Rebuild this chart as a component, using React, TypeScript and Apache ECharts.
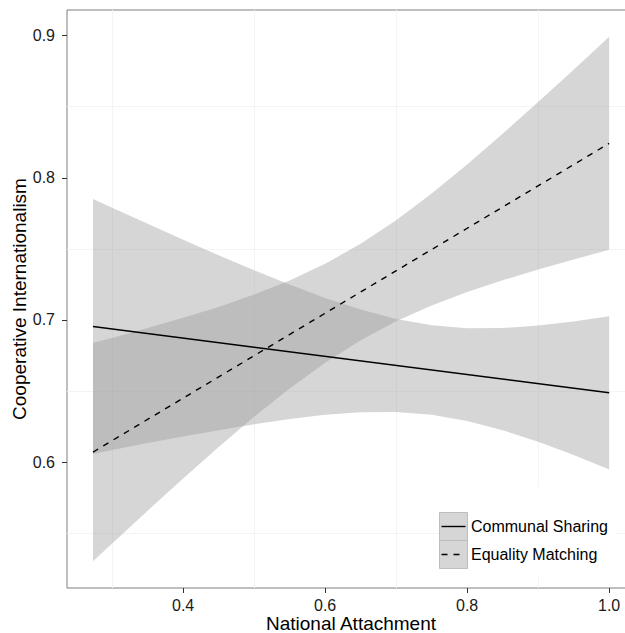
import React, { useEffect, useRef } from "react";
import * as echarts from "echarts";

// x positions at which the confidence bands were read
const bandX = [0.273, 0.3, 0.35, 0.4, 0.45, 0.5, 0.55, 0.6, 0.65, 0.7, 0.75, 0.8, 0.85, 0.9, 0.95, 1.0];
// Communal Sharing band
const csLower = [0.6057, 0.6085, 0.6134, 0.618, 0.6225, 0.6267, 0.6303, 0.6333, 0.6351, 0.6353, 0.6333, 0.629, 0.6225, 0.6143, 0.605, 0.5949];
const csUpper = [0.7851, 0.7789, 0.7676, 0.7564, 0.7455, 0.7349, 0.7249, 0.7155, 0.7073, 0.7007, 0.6963, 0.6942, 0.6943, 0.6961, 0.699, 0.7027];
// Equality Matching band
const emLower = [0.5303, 0.5428, 0.5659, 0.5885, 0.6106, 0.6319, 0.6518, 0.6699, 0.6858, 0.6991, 0.7102, 0.7196, 0.7279, 0.7355, 0.7426, 0.7493];
const emUpper = [0.6839, 0.6874, 0.6943, 0.7015, 0.7092, 0.7179, 0.7278, 0.7395, 0.7536, 0.7701, 0.789, 0.8094, 0.8309, 0.8533, 0.876, 0.8991];
// fitted lines
const fitX = [0.273, 1.0];
const csFit = [0.6954, 0.6488];
const emFit = [0.6071, 0.8242];

const seriesNames = ["Communal Sharing", "Equality Matching"];
const xTicks = [0.4, 0.6, 0.8, 1.0];
const yTicks = [0.6, 0.7, 0.8, 0.9];
const xGrid = [0.3, 0.5, 0.7, 0.9];
const yGrid = [0.55, 0.65, 0.75, 0.85];
const xTitle = "National Attachment";
const yTitle = "Cooperative Internationalism";

const FONT = '"Liberation Sans", Arial, Helvetica, sans-serif';
const RIBBON = "rgba(153,153,153,0.4)";

export default function App() {
  const ref = useRef<HTMLDivElement>(null);
  useEffect(() => {
    const chart = echarts.init(ref.current!, null, { renderer: "svg", width: 640, height: 633 });
    const pairs = (xs: number[], ys: number[]) => xs.map((x, i) => [x, ys[i]]);
    const ribbon = (name: string, lower: number[], upper: number[]) => ({
      type: "custom",
      name,
      silent: true,
      z: 2,
      data: [[bandX[0], lower[0]]],
      renderItem: (_params: any, api: any) => {
        const top = bandX.map((x, i) => api.coord([x, upper[i]]));
        const bottom = bandX.map((x, i) => api.coord([x, lower[i]])).reverse();
        return {
          type: "polygon",
          shape: { points: [...top, ...bottom] },
          style: { fill: RIBBON, stroke: "none" },
        };
      },
    });
    const legendY = [526.5, 554.5];
    const option: any = {
      animation: false,
      backgroundColor: "#fff",
      textStyle: { fontFamily: FONT },
      grid: {
        left: 67,
        top: 10,
        right: 5,
        bottom: 45,
        show: true,
        borderColor: "#7f7f7f",
        borderWidth: 1,
        backgroundColor: "#fff",
      },
      xAxis: {
        type: "value",
        min: 0.2364,
        max: 1.0364,
        axisLine: { show: false },
        splitLine: { show: false },
        axisTick: { show: true, customValues: xTicks, length: 5, lineStyle: { color: "#333", width: 1 } },
        axisLabel: {
          customValues: xTicks,
          formatter: (v: number) => v.toFixed(1),
          color: "#1a1a1a",
          fontSize: 16,
          fontFamily: FONT,
          margin: 9,
        },
      },
      yAxis: {
        type: "value",
        min: 0.5115,
        max: 0.918,
        axisLine: { show: false },
        splitLine: { show: false },
        axisTick: { show: true, customValues: yTicks, length: 5, lineStyle: { color: "#333", width: 1 } },
        axisLabel: {
          customValues: yTicks,
          formatter: (v: number) => v.toFixed(1),
          color: "#1a1a1a",
          fontSize: 16,
          fontFamily: FONT,
          margin: 12,
        },
      },
      series: [
        {
          type: "line",
          name: "grid",
          data: [[0.5, 0.6]],
          symbol: "none",
          lineStyle: { opacity: 0, width: 0 },
          silent: true,
          z: 0,
          markLine: {
            silent: true,
            symbol: ["none", "none"],
            z: 0,
            label: { show: false },
            lineStyle: { color: "#f4f4f4", width: 1, type: "solid" },
            data: [...xGrid.map((v) => ({ xAxis: v })), ...yGrid.map((v) => ({ yAxis: v }))],
          },
        },
        ribbon("cs-band", csLower, csUpper),
        ribbon("em-band", emLower, emUpper),
        {
          type: "line",
          name: seriesNames[0],
          data: pairs(fitX, csFit),
          symbol: "none",
          lineStyle: { color: "#000", width: 1.4, type: "solid" },
          silent: true,
          z: 5,
        },
        {
          type: "line",
          name: seriesNames[1],
          data: pairs(fitX, emFit),
          symbol: "none",
          lineStyle: { color: "#000", width: 1.4, type: [6, 6] },
          silent: true,
          z: 5,
        },
      ],
      graphic: [
        { type: "rect", z: 100, shape: { x: 439, y: 487, width: 178, height: 88 }, style: { fill: "#fff" } },
        ...legendY.map((cy) => ({
          type: "rect",
          z: 101,
          shape: { x: 439.5, y: cy - 14, width: 28, height: 28 },
          style: { fill: "#d6d6d6", stroke: "#bdbdbd", lineWidth: 1 },
        })),
        {
          type: "line",
          z: 102,
          shape: { x1: 441.5, y1: legendY[0], x2: 465.5, y2: legendY[0] },
          style: { stroke: "#000", lineWidth: 1.4 },
        },
        {
          type: "line",
          z: 102,
          shape: { x1: 441.5, y1: legendY[1], x2: 465.5, y2: legendY[1] },
          style: { stroke: "#000", lineWidth: 1.4, lineDash: [6, 6] },
        },
        ...seriesNames.map((n, i) => ({
          type: "text",
          z: 102,
          x: 471,
          y: legendY[i],
          style: { text: n, fontSize: 16, fontFamily: FONT, fill: "#000", align: "left", verticalAlign: "middle" },
        })),
        {
          type: "text",
          z: 102,
          x: 351,
          y: 623.5,
          style: { text: xTitle, fontSize: 19, fontFamily: FONT, fill: "#000", align: "center", verticalAlign: "middle" },
        },
        {
          type: "text",
          z: 102,
          x: 19,
          y: 299,
          rotation: Math.PI / 2,
          style: { text: yTitle, fontSize: 19, fontFamily: FONT, fill: "#000", align: "center", verticalAlign: "middle" },
        },
      ],
    };
    chart.setOption(option);
    return () => chart.dispose();
  }, []);
  return (
    <div style={{ position: "fixed", left: 0, top: 0, width: 625, height: 633, overflow: "hidden", background: "#fff" }}>
      <div ref={ref} style={{ width: 640, height: 633 }} />
    </div>
  );
}
